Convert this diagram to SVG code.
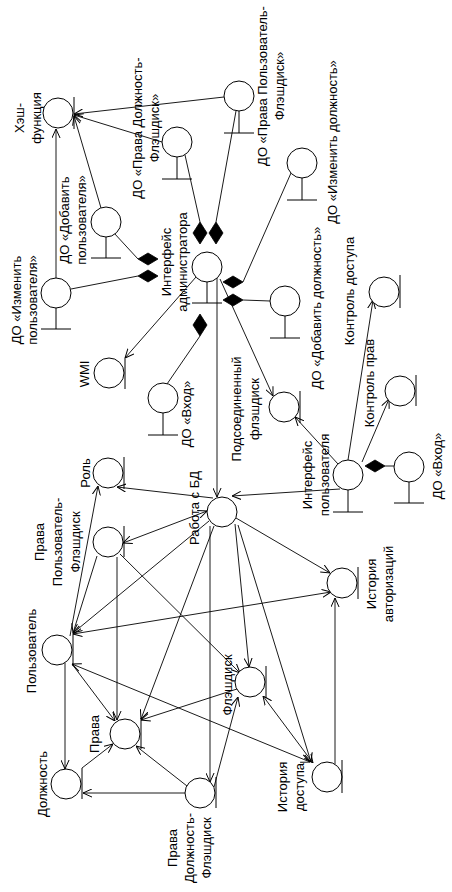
<svg xmlns="http://www.w3.org/2000/svg" width="452" height="892" viewBox="0 0 452 892">
<defs>
<style>
.n{fill:#fff;stroke:#000;stroke-width:1}
.b{stroke:#000;stroke-width:1;fill:none}
.c{stroke:#000;stroke-width:0.9;fill:none}
.a{marker-end:url(#arr)}
.s{marker-start:url(#arrs)}
.d{fill:#000;stroke:#000;stroke-width:0.8}
text{font-family:"Liberation Sans",Arial,sans-serif;font-size:13px;fill:#000;text-anchor:middle}
</style>
<marker id="arr" viewBox="0 0 10 10" refX="10" refY="5" markerWidth="9" markerHeight="9" markerUnits="userSpaceOnUse" orient="auto"><path d="M0,0.5 L10,5 L0,9.5" fill="none" stroke="#000" stroke-width="1.1"/></marker>
<marker id="arrs" viewBox="0 0 10 10" refX="10" refY="5" markerWidth="9" markerHeight="9" markerUnits="userSpaceOnUse" orient="auto-start-reverse"><path d="M0,0.5 L10,5 L0,9.5" fill="none" stroke="#000" stroke-width="1.1"/></marker>
</defs>
<rect width="452" height="892" fill="#fff"/>
<g id="connectors">
<line class="c a" x1="56" y1="278" x2="56" y2="129"/>
<line class="c a" x1="101" y1="208" x2="74" y2="116"/>
<line class="c a" x1="162" y1="142" x2="74" y2="115"/>
<line class="c a" x1="224" y1="97" x2="74" y2="114"/>
<line class="c" x1="185" y1="155" x2="200" y2="222"/>
<line class="c" x1="236" y1="111" x2="216" y2="222"/>
<line class="c" x1="114" y1="233" x2="138" y2="259"/>
<line class="c" x1="71" y1="289" x2="138" y2="276"/>
<line class="c" x1="291" y1="173" x2="243" y2="282"/>
<line class="c" x1="270" y1="301" x2="243" y2="300"/>
<line class="c" x1="167" y1="384" x2="200" y2="336"/>
<line class="c a" x1="196" y1="277" x2="125" y2="358"/>
<line class="c a" x1="217" y1="277" x2="217" y2="497"/>
<line class="c a" x1="220" y1="279" x2="273" y2="396"/>
<line class="c a" x1="338" y1="464" x2="295" y2="417"/>
<line class="c a" x1="348" y1="460" x2="373" y2="300"/>
<line class="c a" x1="362" y1="462" x2="389" y2="399"/>
<line class="c" x1="385" y1="466" x2="394" y2="466"/>
<line class="c a" x1="340" y1="489" x2="232" y2="496"/>
<line class="c a" x1="213" y1="498" x2="117" y2="487"/>
<line class="c a s" x1="207" y1="511" x2="123" y2="543"/>
<line class="c a" x1="209" y1="521" x2="73" y2="633"/>
<line class="c a" x1="214" y1="526" x2="141" y2="719"/>
<line class="c a" x1="210" y1="526" x2="210" y2="782"/>
<line class="c a" x1="235" y1="524" x2="249" y2="667"/>
<line class="c a" x1="238" y1="525" x2="311" y2="762"/>
<line class="c a" x1="236" y1="518" x2="330" y2="573"/>
<line class="c a" x1="70" y1="636" x2="98" y2="486"/>
<line class="c a" x1="97" y1="556" x2="73" y2="633"/>
<line class="c a s" x1="331" y1="592" x2="73" y2="634"/>
<line class="c a" x1="335" y1="764" x2="335" y2="598"/>
<line class="c a s" x1="310" y1="762" x2="72" y2="664"/>
<line class="c a" x1="65" y1="663" x2="65" y2="769"/>
<line class="c a" x1="72" y1="664" x2="115" y2="721"/>
<line class="c a" x1="82" y1="768" x2="113" y2="744"/>
<line class="c a" x1="117" y1="557" x2="117" y2="720"/>
<line class="c a" x1="120" y1="554" x2="240" y2="673"/>
<line class="c a" x1="237" y1="689" x2="141" y2="720"/>
<line class="c a" x1="214" y1="787" x2="238" y2="697"/>
<line class="c a" x1="185" y1="793" x2="83" y2="793"/>
<line class="c a" x1="187" y1="786" x2="136" y2="746"/>
<line class="c a s" x1="313" y1="763" x2="263" y2="696"/>
<polygon class="d" points="200,222 207,233 200,244 193,233"/>
<polygon class="d" points="216,222 223,233 216,244 209,233"/>
<polygon class="d" points="138,259 148,253 158,259 148,265"/>
<polygon class="d" points="138,276 148,270 158,276 148,282"/>
<polygon class="d" points="223,282 233,276 243,282 233,288"/>
<polygon class="d" points="223,300 233,294 243,300 233,306"/>
<polygon class="d" points="200,314 207,325 200,336 193,325"/>
<polygon class="d" points="365,466 375,460 385,466 375,472"/>
</g>
<g id="hash"><circle class="n" cx="58" cy="113" r="15"/><line class="b" x1="74" y1="97" x2="74" y2="129"/>
<text transform="translate(24,118) rotate(-90)"><tspan x="0">Хэш-</tspan><tspan x="0" dy="17">функция</tspan></text></g>
<g id="do-prava-dolzh"><circle class="n" cx="177" cy="142" r="15"/><line class="b" x1="177" y1="157" x2="177" y2="179"/><line class="b" x1="162" y1="179" x2="192" y2="179"/>
<text transform="translate(142,128) rotate(-90)"><tspan x="0">ДО «Права Должность-</tspan><tspan x="0" dy="17">Флэшдиск»</tspan></text></g>
<g id="do-prava-polz"><circle class="n" cx="239" cy="96" r="15"/><line class="b" x1="239" y1="111" x2="239" y2="133"/><line class="b" x1="224" y1="133" x2="254" y2="133"/>
<text transform="translate(267,86) rotate(-90)"><tspan x="0">ДО «Права Пользователь-</tspan><tspan x="0" dy="17">Флэшдиск»</tspan></text></g>
<g id="do-add-user"><circle class="n" cx="106" cy="222" r="15"/><line class="b" x1="106" y1="237" x2="106" y2="258"/><line class="b" x1="91" y1="258" x2="121" y2="258"/>
<text transform="translate(69,220) rotate(-90)"><tspan x="0">ДО «Добавить</tspan><tspan x="0" dy="17">пользователя»</tspan></text></g>
<g id="do-edit-user"><circle class="n" cx="56" cy="293" r="15"/><line class="b" x1="56" y1="308" x2="56" y2="329"/><line class="b" x1="41" y1="329" x2="71" y2="329"/>
<text transform="translate(21,300) rotate(-90)"><tspan x="0">ДО «Изменить</tspan><tspan x="0" dy="16">пользователя»</tspan></text></g>
<g id="do-edit-pos"><circle class="n" cx="302" cy="163" r="15"/><line class="b" x1="302" y1="178" x2="302" y2="200"/><line class="b" x1="287" y1="200" x2="317" y2="200"/>
<text transform="translate(337,142) rotate(-90)">ДО «Изменить должность»</text></g>
<g id="admin"><circle class="n" cx="207" cy="267" r="15"/><line class="b" x1="207" y1="282" x2="207" y2="303"/><line class="b" x1="192" y1="303" x2="222" y2="303"/>
<text transform="translate(171,262) rotate(-90)"><tspan x="0">Интерфейс</tspan><tspan x="0" dy="16">администратора</tspan></text></g>
<g id="do-add-pos"><circle class="n" cx="285" cy="301" r="15"/><line class="b" x1="285" y1="316" x2="285" y2="338"/><line class="b" x1="270" y1="338" x2="300" y2="338"/>
<text transform="translate(321,308) rotate(-90)">ДО «Добавить должность»</text></g>
<g id="access-ctrl"><circle class="n" cx="384" cy="292" r="15"/><line class="b" x1="400" y1="275" x2="400" y2="308"/>
<text transform="translate(354,291) rotate(-90)">Контроль доступа</text></g>
<g id="rights-ctrl"><circle class="n" cx="400" cy="391" r="15"/><line class="b" x1="416" y1="375" x2="416" y2="406"/>
<text transform="translate(374,383) rotate(-90)">Контроль прав</text></g>
<g id="flash-conn"><circle class="n" cx="284" cy="407" r="15"/><line class="b" x1="300" y1="391" x2="300" y2="423"/>
<text transform="translate(241,409) rotate(-90)"><tspan x="0">Подсоединенный</tspan><tspan x="0" dy="18">флэшдиск</tspan></text></g>
<g id="user-if"><circle class="n" cx="348" cy="475" r="15"/><line class="b" x1="348" y1="490" x2="348" y2="512"/><line class="b" x1="333" y1="512" x2="363" y2="512"/>
<text transform="translate(312,475) rotate(-90)"><tspan x="0">Интерфейс</tspan><tspan x="0" dy="17">пользователя</tspan></text></g>
<g id="do-login-r"><circle class="n" cx="409" cy="467" r="15"/><line class="b" x1="409" y1="482" x2="409" y2="503"/><line class="b" x1="394" y1="503" x2="424" y2="503"/>
<text transform="translate(442,466) rotate(-90)">ДО «Вход»</text></g>
<g id="wmi"><circle class="n" cx="109" cy="373" r="15"/><line class="b" x1="125" y1="358" x2="125" y2="389"/>
<text transform="translate(89,374) rotate(-90)">WMI</text></g>
<g id="do-login-l"><circle class="n" cx="163" cy="398" r="15"/><line class="b" x1="163" y1="413" x2="163" y2="435"/><line class="b" x1="148" y1="435" x2="178" y2="435"/>
<text transform="translate(191,414) rotate(-90)">ДО «Вход»</text></g>
<g id="role"><circle class="n" cx="108" cy="473" r="15"/><line class="b" x1="124" y1="457" x2="124" y2="489"/>
<text transform="translate(90,473) rotate(-90)">Роль</text></g>
<g id="db"><circle class="n" cx="222" cy="512" r="15"/>
<text transform="translate(199,508) rotate(-90)">Работа с БД</text></g>
<g id="prava-polz"><circle class="n" cx="108" cy="542" r="15"/><line class="b" x1="124" y1="526" x2="124" y2="557"/>
<text transform="translate(44,542) rotate(-90)"><tspan x="0">Права</tspan><tspan x="0" dy="18">Пользователь-</tspan><tspan x="0" dy="18">Флэшдиск</tspan></text></g>
<g id="auth-hist"><circle class="n" cx="342" cy="583" r="15"/><line class="b" x1="358" y1="567" x2="358" y2="599"/>
<text transform="translate(376,584) rotate(-90)"><tspan x="0">История</tspan><tspan x="0" dy="17">авторизаций</tspan></text></g>
<g id="user"><circle class="n" cx="57" cy="650" r="15"/><line class="b" x1="73" y1="633" x2="73" y2="666"/>
<text transform="translate(36,651) rotate(-90)">Пользователь</text></g>
<g id="flash"><circle class="n" cx="250" cy="682" r="15"/><line class="b" x1="266" y1="666" x2="266" y2="698"/>
<text transform="translate(232,685) rotate(-90)">Флэшдиск</text></g>
<g id="prava"><circle class="n" cx="125" cy="734" r="15"/><line class="b" x1="141" y1="718" x2="141" y2="749"/>
<text transform="translate(99,734) rotate(-90)">Права</text></g>
<g id="access-hist"><circle class="n" cx="327" cy="777" r="15"/><line class="b" x1="342" y1="760" x2="342" y2="793"/>
<text transform="translate(287,787) rotate(-90)"><tspan x="0">История</tspan><tspan x="0" dy="17">доступа</tspan></text></g>
<g id="position"><circle class="n" cx="66" cy="784" r="15"/><line class="b" x1="82" y1="768" x2="82" y2="799"/>
<text transform="translate(47,784) rotate(-90)">Должность</text></g>
<g id="prava-dolzh"><circle class="n" cx="200" cy="793" r="15"/><line class="b" x1="216" y1="777" x2="216" y2="808"/>
<text transform="translate(177,848) rotate(-90)"><tspan x="0">Права</tspan><tspan x="0" dy="17">Должность-</tspan><tspan x="0" dy="17">Флэшдиск</tspan></text></g>
</svg>
